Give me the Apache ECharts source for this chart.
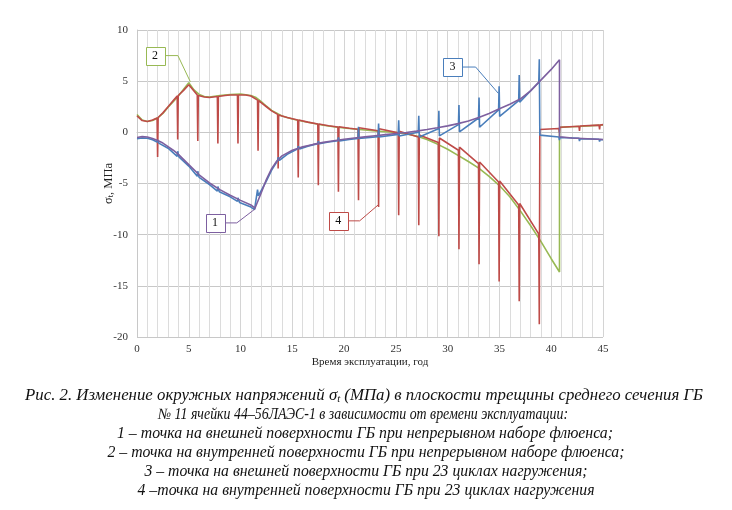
<!DOCTYPE html>
<html><head><meta charset="utf-8">
<script src="https://cdn.jsdelivr.net/npm/echarts@6/dist/echarts.min.js"></script>
<style>html,body{margin:0;padding:0;background:#fff}#c{width:732px;height:510px}</style>
</head><body><div id="c"></div>
<script>
// Series 1 (purple): outer surface, continuous fluence
const s1X = [0,0.5,1,1.5,2,2.5,3,3.5,4,5,6,7,8,9,10,11,11.4,12,12.5,13,13.5,14,15,16,17,18,19,20,21,22,23,24,25,26,27,28,29,30,31,32,33,34,35,36,37,38,39,40,40.8,40.8,42,43,44,45];
const s1Y = [-0.5,-0.42,-0.45,-0.6,-0.8,-1.05,-1.4,-1.75,-2.15,-3.15,-4.15,-4.95,-5.6,-6.15,-6.65,-7.1,-7.4,-5.9,-4.6,-3.55,-2.8,-2.3,-1.75,-1.42,-1.18,-0.98,-0.82,-0.68,-0.55,-0.44,-0.33,-0.22,-0.12,-0.02,0.12,0.28,0.45,0.63,0.85,1.1,1.45,1.85,2.3,2.75,3.25,4.05,5.1,6.15,7.1,-0.43,-0.55,-0.6,-0.65,-0.7];
// Series 2 (green): inner surface, continuous fluence
const s2X = [0,0.5,1,1.5,2,2.5,3,3.5,4,4.5,5,5.5,6,6.5,7,8,9,10,11,11.5,12,12.5,13,14,15,16,17,18,19,20,21,22,23,24,25,26,27,28,29,30,31,32,33,34,35,36,37,38,39,40,40.8,40.8,42,43,44,45];
const s2Y = [1.75,1.2,1.05,1.15,1.4,1.85,2.45,3.0,3.55,4.2,4.85,4.15,3.7,3.5,3.45,3.6,3.7,3.75,3.6,3.4,3.0,2.55,2.15,1.6,1.3,1.08,0.88,0.7,0.55,0.43,0.32,0.23,0.14,0.06,-0.02,-0.15,-0.35,-0.7,-1.15,-1.65,-2.25,-2.85,-3.5,-4.3,-5.2,-6.3,-7.65,-9.1,-10.65,-12.35,-13.65,0.48,0.55,0.6,0.66,0.72];
// Series 3 (blue): outer surface, 23 loading cycles
const s3X = [0,0.5,1,1.5,1.94,1.99,2.1,3,3.88,3.93,4.05,5,5.82,5.87,6.0,7,7.76,7.81,7.95,9,9.7,9.75,9.9,11,11.35,11.64,11.72,12.5,13,13.58,13.63,13.75,14.5,15.52,15.57,15.7,16.5,17.46,17.51,17.6,18.5,19.4,19.45,19.55,20.5,21.34,21.39,21.44,22.5,23.28,23.33,23.38,25.22,25.27,25.32,27.16,27.21,27.26,29.1,29.15,29.2,31.04,31.09,31.14,32.98,33.03,33.08,34.92,34.97,35.02,36.86,36.91,36.96,38.8,38.85,38.9,40.74,40.79,40.84,42.68,42.73,42.78,44.62,44.67,44.72,45];
const s3Y = [-0.62,-0.55,-0.58,-0.72,-0.95,-0.75,-1.05,-1.55,-2.35,-1.85,-2.4,-3.3,-4.3,-3.8,-4.4,-5.1,-5.75,-5.3,-5.8,-6.3,-6.75,-6.4,-6.85,-7.3,-7.55,-5.6,-6.2,-4.75,-3.7,-2.75,-2.45,-2.75,-2.15,-1.6,-1.35,-1.62,-1.35,-1.12,-0.85,-1.12,-0.95,-0.82,-0.5,-0.85,-0.7,-0.6,0.54,-0.6,-0.5,-0.42,0.87,-0.45,-0.2,1.19,-0.35,0.0,1.61,-0.45,0.35,2.1,-0.35,0.75,2.66,0.05,1.4,3.41,0.5,2.2,4.5,1.55,3.1,5.6,2.95,4.9,7.13,-0.27,-0.45,-0.75,-0.5,-0.58,-0.85,-0.62,-0.68,-0.9,-0.7,-0.72];
// Series 4 (red): inner surface, 23 loading cycles
const s4X = [0,0.5,1,1.5,1.94,1.99,2.04,2.5,3,3.5,3.88,3.93,3.98,4.5,5,5.5,5.82,5.87,5.92,6.5,7,7.76,7.81,7.86,8.5,9,9.7,9.75,9.8,10.5,11,11.64,11.69,11.74,12.5,13,13.58,13.63,13.68,14.5,15.52,15.57,15.62,16.5,17.46,17.51,17.56,18.5,19.4,19.45,19.5,20.5,21.34,21.39,21.44,23.28,23.33,23.38,25.22,25.27,25.32,27.16,27.21,27.26,29.1,29.15,29.2,31.04,31.09,31.14,32.98,33.03,33.08,34.92,34.97,35.02,36.86,36.91,36.96,38.8,38.85,38.9,40.74,40.79,40.84,42.68,42.73,42.78,44.62,44.67,44.72,45];
const s4Y = [1.6,1.15,1.05,1.2,1.4,-2.4,1.45,1.9,2.5,3.1,3.55,-0.7,3.6,4.1,4.65,4.05,3.65,-0.84,3.6,3.45,3.4,3.5,-1.09,3.5,3.6,3.65,3.65,-1.09,3.65,3.65,3.55,3.15,-1.81,3.1,2.5,2.1,1.75,-3.54,1.7,1.45,1.2,-4.42,1.2,1.0,0.82,-5.17,0.82,0.65,0.52,-5.8,0.55,0.4,0.3,-6.63,0.45,0.15,-7.29,0.35,-0.05,-8.09,0.1,-0.45,-9.07,-0.25,-1.0,-10.15,-0.55,-1.75,-11.43,-1.45,-3.05,-12.9,-2.9,-4.85,-14.58,-4.75,-7.1,-16.5,-6.95,-9.95,-18.76,0.28,0.38,0.0,0.5,0.6,0.15,0.62,0.7,0.28,0.72,0.75];

const colors = {s1:'#7d60a0', s2:'#98b954', s3:'#4a7ebb', s4:'#be4b48'};
// callouts: label, anchor point [x,y], box centre [x,y], elbow [x,y]
const calloutLabels = ['1','2','3','4'];
const calloutAnchor = [[11.45,-7.45],[5.15,4.94],[34.9,3.8],[23.34,-7.05]];
const calloutBox = [[7.54,-8.85],[1.75,7.5],[30.47,6.38],[19.43,-8.65]];
const calloutElbow = [[9.64,-8.75],[3.95,7.6],[32.7,6.0],[21.5,-8.55]];
const calloutColor = [colors.s1, colors.s2, colors.s3, colors.s4];

const captionFirst = ['Рис. 2. Изменение окружных напряжений σ', 't', ' (МПа) в плоскости трещины среднего сечения ГБ'];
const caption = [
  '№ 11 ячейки 44–56ЛАЭС-1 в зависимости от времени эксплуатации:',
  '1 – точка на внешней поверхности ГБ при непрерывном наборе флюенса;',
  '2 – точка на внутренней поверхности ГБ при непрерывном наборе флюенса;',
  '3 – точка на внешней поверхности ГБ при 23 циклах нагружения;',
  '4 –точка на внутренней поверхности ГБ при 23 циклах нагружения'
];
const captionWidth = [678, 410, 496, 517, 443, 457];
const captionCenter = [364, 363, 365, 366, 366, 366];

const zip = (xs, ys) => xs.map((x,i)=>[x, ys[i]]);
const serif = '"Liberation Serif", "Times New Roman", serif';
const capFont = 'italic 15.7px ' + serif;
const subFont = 'italic 10px ' + serif;
const mctx = document.createElement('canvas').getContext('2d');
const measure = (t, f) => { mctx.font = f; return mctx.measureText(t).width; };

const chart = echarts.init(document.getElementById('c'), null, {renderer:'canvas'});
const lineS = (name, xs, ys, c, w, z) => ({
  name, type:'line', data: zip(xs,ys), showSymbol:false, symbol:'none',
  lineStyle:{color:c, width:w}, itemStyle:{color:c}, z, animation:false
});
chart.setOption({
  animation:false,
  backgroundColor:'#fff',
  grid:{left:137, right:129, top:30, bottom:173},
  xAxis:{
    type:'value', min:0, max:45, interval:5,
    axisLine:{show:true, lineStyle:{color:'#c8c8c8'}}, axisTick:{show:false},
    axisLabel:{color:'#333', fontFamily:serif, fontSize:11, margin:7},
    splitLine:{show:true, lineStyle:{color:'#d4d4d4', width:1}},
    minorTick:{show:false, splitNumber:5},
    minorSplitLine:{show:true, lineStyle:{color:'#dcdcdc', width:1}},
    name:'Время эксплуатации, год', nameLocation:'middle', nameGap:20, nameMoveOverlap:false,
    nameTextStyle:{color:'#222', fontFamily:serif, fontSize:11}
  },
  yAxis:{
    type:'value', min:-20, max:10, interval:5,
    axisLine:{show:true, lineStyle:{color:'#c8c8c8'}}, axisTick:{show:false},
    axisLabel:{color:'#333', fontFamily:serif, fontSize:11, margin:9},
    splitLine:{show:true, lineStyle:{color:'#c8c8c8', width:1}},
    name:'{a|σ}{s|t}{a|, МПа}', nameLocation:'middle', nameGap:22, nameRotate:90, nameMoveOverlap:false,
    nameTextStyle:{color:'#222', fontFamily:serif, fontSize:12.5,
      rich:{a:{fontFamily:serif, fontSize:12.5, color:'#222'}, s:{fontFamily:serif, fontSize:8.5, color:'#222', verticalAlign:'bottom'}}}
  },
  series:[
    lineS('2', s2X, s2Y, colors.s2, 1.6, 2),
    lineS('4', s4X, s4Y, colors.s4, 1.6, 3),
    lineS('3', s3X, s3Y, colors.s3, 1.6, 4),
    lineS('1', s1X, s1Y, colors.s1, 1.6, 5)
  ]
});

const g = [];
calloutLabels.forEach((lab,i)=>{
  const a = chart.convertToPixel({gridIndex:0}, calloutAnchor[i]);
  const b = chart.convertToPixel({gridIndex:0}, calloutBox[i]);
  const e = chart.convertToPixel({gridIndex:0}, calloutElbow[i]);
  const w = 19, h = 18;
  g.push({type:'polyline', z:20, shape:{points:[[b[0]+w/2, b[1]],[e[0], b[1]],[a[0],a[1]]]}, style:{stroke:calloutColor[i], lineWidth:1, fill:null}});
  g.push({type:'rect', z:21, shape:{x:Math.round(b[0]-w/2)+0.5, y:Math.round(b[1]-h/2)+0.5, width:w, height:h}, style:{fill:'#fff', stroke:calloutColor[i], lineWidth:1}});
  g.push({type:'text', z:22, x:b[0], y:b[1], style:{text:lab, font:'12px '+serif, fill:'#111', textAlign:'center', textVerticalAlign:'middle'}});
});
// first caption line with subscript
{
  const w0 = measure(captionFirst[0], capFont) + measure(captionFirst[1], subFont) + measure(captionFirst[2], capFont);
  const sx = captionWidth[0] / w0;
  g.push({type:'text', z:30, x:captionCenter[0], y:396, scaleX:sx, originX:0, style:{
    text:'{i|'+captionFirst[0]+'}{sub|'+captionFirst[1]+'}{i|'+captionFirst[2]+'}',
    textAlign:'center', textVerticalAlign:'middle',
    rich:{i:{font:capFont, fill:'#111'}, sub:{font:subFont, fill:'#111', verticalAlign:'bottom'}}
  }});
}
caption.forEach((t,k)=>{
  const sx = captionWidth[k+1] / measure(t, capFont);
  g.push({type:'text', z:30, x:captionCenter[k+1], y:415+k*19, scaleX:sx, originX:0,
    style:{text:t, font:capFont, fill:'#111', textAlign:'center', textVerticalAlign:'middle'}});
});
chart.setOption({graphic:g});
</script>
</body></html>
